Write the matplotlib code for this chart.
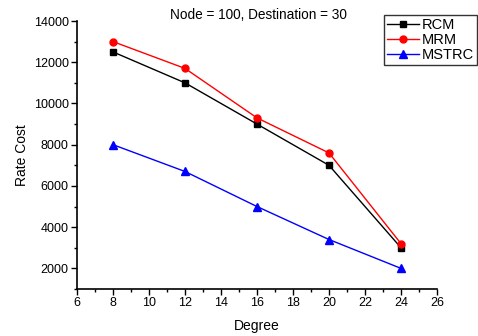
import matplotlib
matplotlib.use("Agg")
import matplotlib.pyplot as plt
from matplotlib.ticker import MultipleLocator

plt.rcParams['font.family'] = ['Liberation Sans', 'DejaVu Sans']

degree = [8, 12, 16, 20, 24]
rcm = [12500, 11000, 9000, 7000, 3000]
mrm = [13000, 11700, 9300, 7600, 3200]
mstrc = [8000, 6700, 5000, 3400, 2000]

fig = plt.figure(figsize=(4.78, 3.36), dpi=100)
ax = fig.add_axes([77/478, 1-289/336, (437-77)/478, (289-21)/336])

ax.plot(degree, rcm, color='black', marker='s', markersize=4.3, lw=1, label='RCM')
ax.plot(degree, mrm, color='red', marker='o', markersize=5, lw=1, label='MRM')
ax.plot(degree, mstrc, color='blue', marker='^', markersize=5.5, lw=1, label='MSTRC')

ax.set_xlim(6, 26)
ax.set_ylim(1000, 14000)
ax.xaxis.set_major_locator(MultipleLocator(2))
ax.xaxis.set_minor_locator(MultipleLocator(1))
ax.yaxis.set_minor_locator(MultipleLocator(1000))
ax.set_yticks([2000, 4000, 6000, 8000, 10000, 12000, 14000])

for s in ['top', 'right']:
    ax.spines[s].set_visible(False)
for s in ['left', 'bottom']:
    ax.spines[s].set_linewidth(1.2)

ax.tick_params(which='major', direction='out', length=4, width=1, labelsize=9, pad=2)
ax.tick_params(which='minor', direction='out', length=2.5, width=1)

ax.set_xlabel('Degree', fontsize=10, labelpad=7)
ax.set_ylabel('Rate Cost', fontsize=10, labelpad=3)
fig.text(258/478, 1-15/336, 'Node = 100, Destination = 30', ha='center', va='center', fontsize=9.8)

leg = ax.legend(loc='upper left', bbox_to_anchor=(384/478, 1-15/336), bbox_transform=fig.transFigure,
                fontsize=10.5, frameon=True, fancybox=False, edgecolor='black', borderpad=0.2,
                labelspacing=0.08, handlelength=2.2, handletextpad=0.2, borderaxespad=0)
leg.get_frame().set_linewidth(1)

fig.savefig('out.png', dpi=100)
